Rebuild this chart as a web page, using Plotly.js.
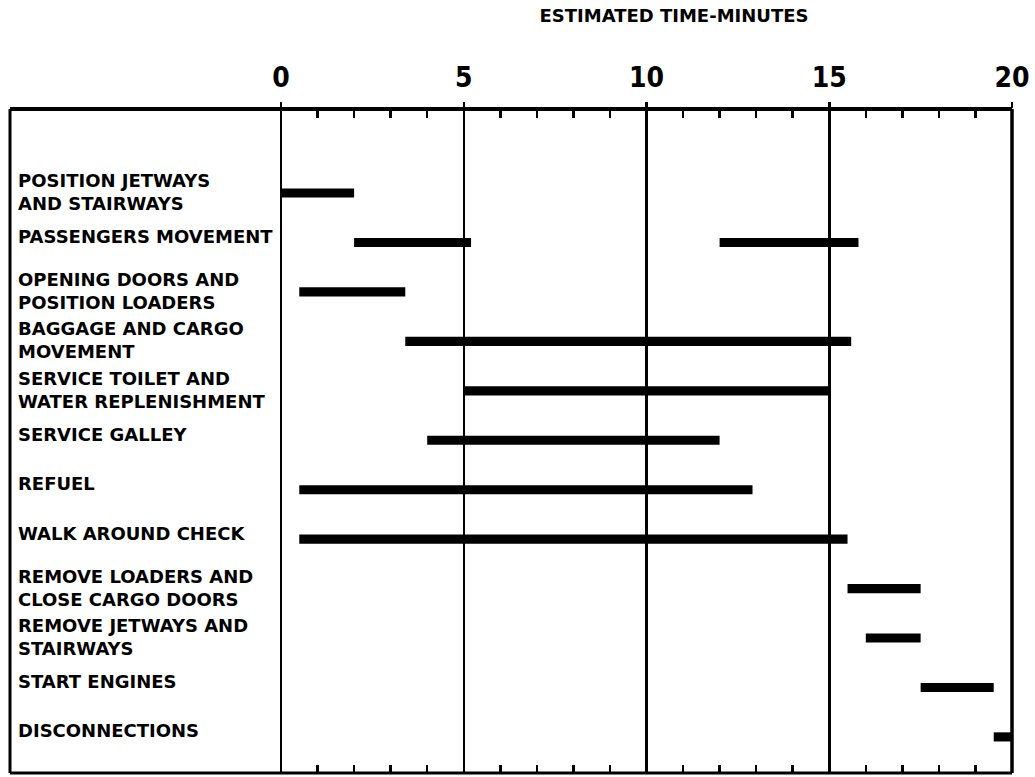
<!DOCTYPE html>
<html>
<head>
<meta charset="utf-8">
<script src="https://cdn.plot.ly/plotly-3.0.1.min.js"></script>
<style>html,body{margin:0;padding:0;background:#fff;}</style>
</head>
<body>
<div id="chart" style="width:1035px;height:777px;"></div>
<script>
// ---- data ----
const tasks = [
  "POSITION JETWAYS<br>AND STAIRWAYS",
  "PASSENGERS MOVEMENT",
  "OPENING DOORS AND<br>POSITION LOADERS",
  "BAGGAGE AND CARGO<br>MOVEMENT",
  "SERVICE TOILET AND<br>WATER REPLENISHMENT",
  "SERVICE GALLEY",
  "REFUEL",
  "WALK AROUND CHECK",
  "REMOVE LOADERS AND<br>CLOSE CARGO DOORS",
  "REMOVE JETWAYS AND<br>STAIRWAYS",
  "START ENGINES",
  "DISCONNECTIONS"
];
const barTask  = [0, 1, 1, 2, 3, 4, 5, 6, 7, 8, 9, 10, 11];
const barStart = [0.0, 2.0, 12.0, 0.5, 3.4, 5.0, 4.0, 0.5, 0.5, 15.5, 16.0, 17.5, 19.5];
const barEnd   = [2.0, 5.2, 15.8, 3.4, 15.6, 15.0, 12.0, 12.9, 15.5, 17.5, 17.5, 19.5, 20.0];
const tickValues = [0, 5, 10, 15, 20];
const tickLabels = ["0", "5", "10", "15", "20"];
const xTitle = "ESTIMATED TIME-MINUTES";

// ---- drawing ----
const labelFont = {family: "DejaVu Sans, Liberation Sans, sans-serif", size: 18, color: "#000", weight: "bold"};
const frameLeft = -(281 - 10) / 731;

const bars = {
  type: "bar",
  orientation: "h",
  y: barTask.map(i => tasks[i]),
  base: barStart,
  x: barEnd.map((e, i) => e - barStart[i]),
  width: 0.185,
  marker: {color: "#000", line: {width: 0}},
  hoverinfo: "skip"
};
const dummy = {type: "scatter", x: [], y: [], xaxis: "x2", yaxis: "y", showlegend: false};

const annotations = tasks.map(t => ({
  xref: "paper", yref: "y",
  x: (16 - 281) / 731, y: t,
  text: t, showarrow: false,
  xanchor: "left", yanchor: "middle", align: "left",
  yshift: t.includes("<br>") ? 1 : 6,
  font: labelFont
}));

const shapes = [
  {type: "line", xref: "paper", yref: "paper", x0: frameLeft, x1: frameLeft, y0: 0, y1: 1, line: {color: "#000", width: 3}},
  {type: "line", xref: "paper", yref: "paper", x0: 1, x1: 1, y0: 0, y1: 1, line: {color: "#000", width: 3.5}},
  {type: "line", xref: "paper", yref: "paper", x0: frameLeft, x1: 1, y0: 1, y1: 1, line: {color: "#000", width: 4}},
  {type: "line", xref: "paper", yref: "paper", x0: frameLeft, x1: 1, y0: 0, y1: 0, line: {color: "#000", width: 3}}
];

const layout = {
  width: 1035, height: 777,
  margin: {l: 281, r: 23, t: 109, b: 4, pad: 0},
  paper_bgcolor: "#fff", plot_bgcolor: "#fff",
  showlegend: false,
  barmode: "overlay",
  title: {
    text: xTitle,
    font: {family: "DejaVu Sans, Liberation Sans, sans-serif", size: 18, color: "#000", weight: "bold"},
    xref: "container", yref: "container",
    x: 674 / 1035, xanchor: "center",
    y: 1 - 16 / 777, yanchor: "middle"
  },
  xaxis: {
    range: [0, 20], side: "top", fixedrange: true,
    tickmode: "array", tickvals: tickValues, ticktext: tickLabels,
    ticks: "outside", ticklen: 6, tickwidth: 2.5, tickcolor: "#000",
    ticklabelstandoff: 4,
    tickfont: {family: "Liberation Sans Narrow, DejaVu Sans Condensed, sans-serif", size: 28, color: "#000", weight: "bold"},
    showgrid: true, gridcolor: "#000", gridwidth: 2.5,
    zeroline: true, zerolinecolor: "#000", zerolinewidth: 2.5,
    showline: false,
    minor: {dtick: 1, tick0: 0, ticks: "inside", ticklen: 9, tickwidth: 2.5, tickcolor: "#000", showgrid: false}
  },
  xaxis2: {
    range: [0, 20], overlaying: "x", side: "bottom", anchor: "y", fixedrange: true,
    showticklabels: false, showgrid: false, zeroline: false, showline: false,
    tickmode: "array", tickvals: tickValues, ticks: "",
    minor: {dtick: 1, tick0: 0, ticks: "inside", ticklen: 8, tickwidth: 2.5, tickcolor: "#000", showgrid: false}
  },
  yaxis: {
    type: "category", categoryorder: "array", categoryarray: tasks,
    range: [11.73, -1.70], fixedrange: true,
    showticklabels: false, showgrid: false, zeroline: false, showline: false, ticks: ""
  },
  annotations: annotations,
  shapes: shapes
};

Plotly.newPlot("chart", [bars, dummy], layout, {staticPlot: true, displayModeBar: false});
</script>
</body>
</html>
